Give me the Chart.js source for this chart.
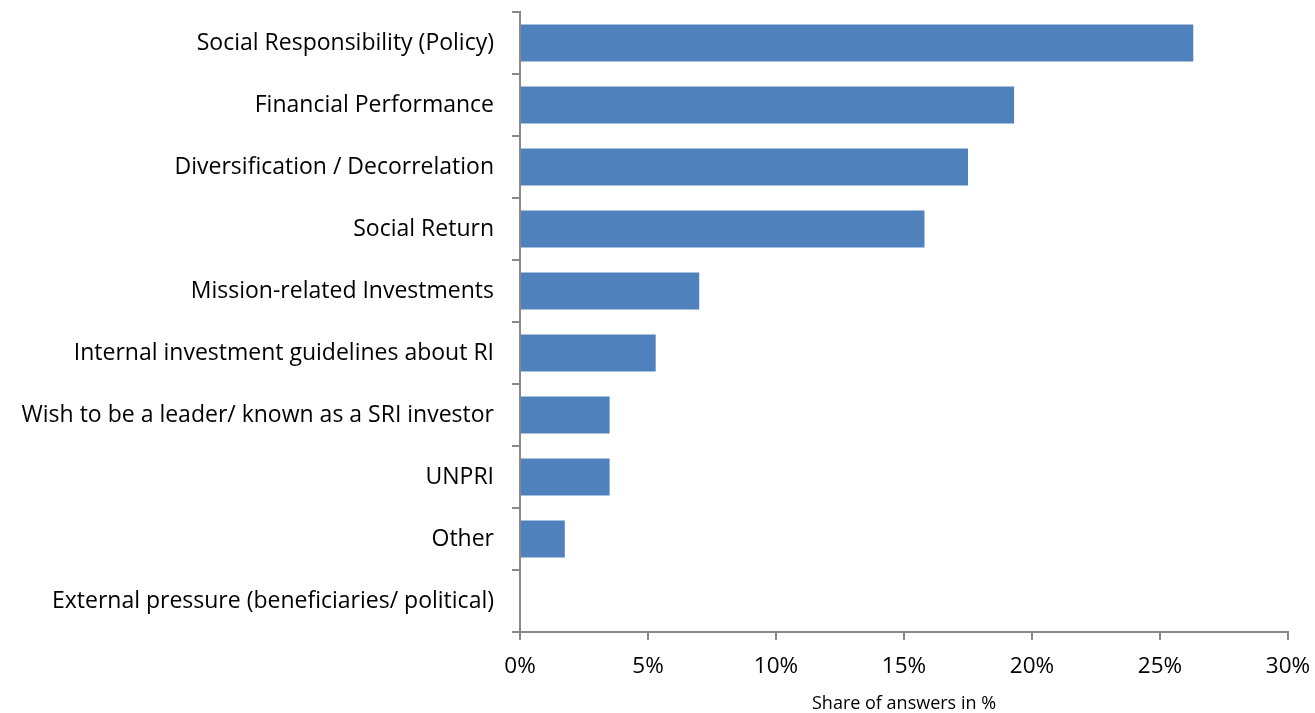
<!DOCTYPE html>
<html>
<head>
<meta charset="utf-8">
<script src="https://cdn.jsdelivr.net/npm/chart.js@4"></script>
<style>
  html, body { margin: 0; padding: 0; background: #fff; }
  #wrap { width: 1315px; height: 713px; }
</style>
</head>
<body>
<div id="wrap"><canvas id="chart"></canvas></div>
<script>
// --- data ---
const categories = [
    'Social Responsibility (Policy)',
    'Financial Performance',
    'Diversification / Decorrelation',
    'Social Return',
    'Mission-related Investments',
    'Internal investment guidelines about RI',
    'Wish to be a leader/ known as a SRI investor',
    'UNPRI',
    'Other',
    'External pressure (beneficiaries/ political)'
];
const shares = [26.3, 19.3, 17.5, 15.8, 7.0, 5.3, 3.5, 3.5, 1.75, 0];
const xTicks = [0, 5, 10, 15, 20, 25, 30];
const xTitle = 'Share of answers in %';

const axisGrey = '#898989';
const fontFamily = '"Open Sans", Lato, sans-serif';

new Chart(document.getElementById('chart'), {
    type: 'bar',
    data: {
        labels: categories,
        datasets: [{
            data: shares,
            backgroundColor: '#4f81bd',
            barPercentage: 0.6,
            categoryPercentage: 1
        }]
    },
    options: {
        indexAxis: 'y',
        responsive: true,
        maintainAspectRatio: false,
        animation: false,
        layout: { padding: { top: 12, right: 27, left: 0, bottom: 0 } },
        plugins: { legend: { display: false }, tooltip: { enabled: false } },
        scales: {
            x: {
                min: xTicks[0],
                max: xTicks[xTicks.length - 1],
                afterBuildTicks: (scale) => { scale.ticks = xTicks.map(v => ({ value: v })); },
                ticks: {
                    callback: (v) => v + '%',
                    color: '#000',
                    font: { family: fontFamily, size: 22.5 },
                    padding: 13,
                    maxRotation: 0
                },
                grid: { drawOnChartArea: false, tickLength: 8, color: axisGrey, lineWidth: 2 },
                border: { color: axisGrey, width: 2 },
                title: {
                    display: true,
                    text: xTitle,
                    color: '#000',
                    font: { family: fontFamily, size: 18, lineHeight: 1 },
                    padding: { top: 4, bottom: 0 }
                },
                afterFit: (scale) => {
                    scale.height = 81;
                    scale.paddingLeft = 0;
                    scale.paddingRight = 0;
                }
            },
            y: {
                offset: true,
                ticks: {
                    color: '#000',
                    font: { family: fontFamily, size: 23 },
                    padding: 18
                },
                grid: { drawOnChartArea: false, offset: true, tickLength: 8, color: axisGrey, lineWidth: 2 },
                border: { color: axisGrey, width: 2 },
                afterFit: (scale) => {
                    scale.width = 520;
                    scale.paddingTop = 0;
                    scale.paddingBottom = 0;
                }
            }
        }
    }
});
</script>
</body>
</html>
